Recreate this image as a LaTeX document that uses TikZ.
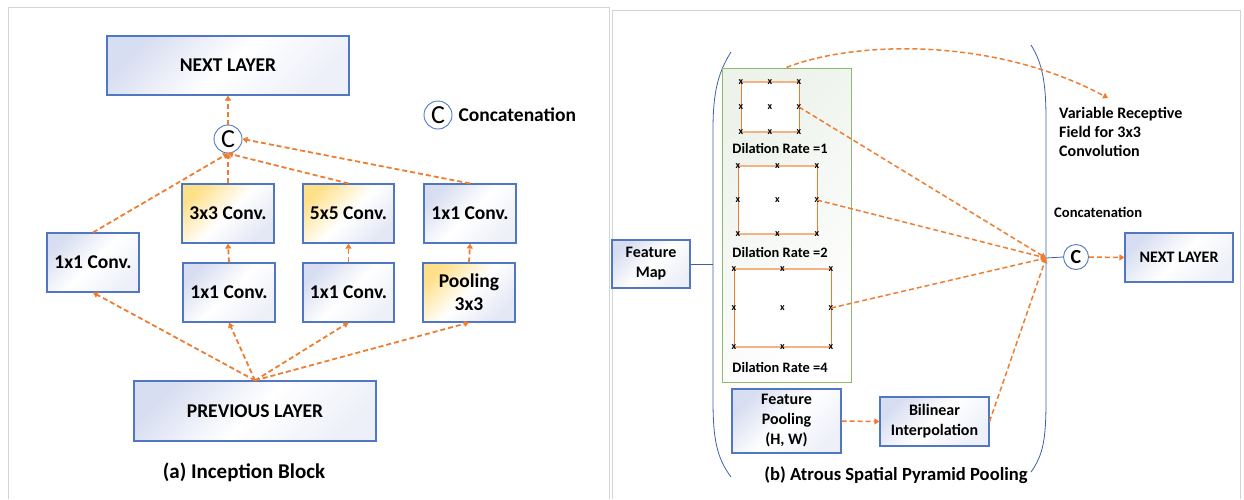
\documentclass[tikz,border=0pt]{standalone}
\usepackage{fontspec}
\setmainfont{Carlito}
\usetikzlibrary{arrows.meta,positioning}
\definecolor{boxblue}{HTML}{5177C2}
\definecolor{boxlav}{HTML}{D8DEF1}
\definecolor{boxyel}{HTML}{FFE08A}
\definecolor{arrorange}{HTML}{ED7D31}
\definecolor{sqlight}{HTML}{F4B183}
\definecolor{dilgreen}{HTML}{8DBA6E}
\definecolor{dilfill}{HTML}{EDF2EB}
\definecolor{parblue}{HTML}{3F5FA8}
\definecolor{panelgray}{HTML}{D4D4D4}

\begin{document}
\begin{tikzpicture}[x=1pt,y=-1pt,
  layer/.style={draw=boxblue, line width=1.1pt, top color=boxlav, bottom color=boxlav!45, middle color=white, shading angle=45, align=center, inner sep=0pt, font=\bfseries\fontsize{19.5}{23}\selectfont},
  layerY/.style={layer, top color=boxyel, bottom color=boxlav!70, middle color=white, shading angle=45},
  small/.style={font=\bfseries\fontsize{16}{20}\selectfont},
  concat/.style={circle, draw=boxblue, line width=0.9pt, fill=white, inner sep=0pt, minimum size=28pt, font=\fontsize{26}{26}\selectfont},
  flow/.style={draw=arrorange, line width=1.8pt, dash pattern=on 5pt off 3pt, -{Triangle[length=5pt,width=6pt]}},
  tick/.style={inner sep=0pt, font=\bfseries\fontsize{10}{10}\selectfont},
  dillabel/.style={inner sep=0pt, font=\bfseries\fontsize{14.4}{16}\selectfont},
]
\useasboundingbox (0,0) rectangle (1244,499);

% panel frames
\draw[panelgray, line width=0.9pt] (8,499) -- (8,7) -- (609,7) -- (609,499);
\draw[panelgray, line width=0.9pt] (612,499) -- (612,10) -- (1240,10) -- (1240,499);

%% (a) inception block
\node[layer, minimum width=242pt, minimum height=59pt] (nextA) at (228,65.5) {NEXT LAYER};
\node[concat] (concA) at (228,139) {C};
\node[concat] (legC) at (438,115) {C};
\node[right=6pt of legC, inner sep=0pt, font=\bfseries\fontsize{19.5}{23}\selectfont] (legT) {Concatenation};

\node[layerY, minimum width=92pt, minimum height=59pt] (c33) at (228,213.5) {3x3 Conv.};
\node[layerY, minimum width=91pt, minimum height=59pt] (c55) at (348.5,213.5) {5x5 Conv.};
\node[layer, minimum width=92pt, minimum height=59pt] (c11r) at (470,213.5) {1x1 Conv.};
\node[layer, minimum width=92pt, minimum height=59pt] (c11l) at (93,262.5) {1x1 Conv.};
\node[layer, minimum width=92pt, minimum height=59pt] (r11a) at (229,292.5) {1x1 Conv.};
\node[layer, minimum width=91pt, minimum height=59pt] (r11b) at (348.5,292.5) {1x1 Conv.};
\node[layerY, minimum width=92pt, minimum height=59pt] (pool) at (469,292.5) {Pooling\\3x3};
\node[layer, minimum width=242pt, minimum height=60pt] (prevA) at (255,411) {PREVIOUS LAYER};
\node[inner sep=0pt, font=\bfseries\fontsize{21}{24}\selectfont] (capA) at (244,472) {(a) Inception Block};

\foreach \t in {c11l,r11a,r11b,pool}
  \draw[flow] (prevA.north) -- (\t.south);
\foreach \s/\t in {r11a/c33,r11b/c55,pool/c11r}
  \draw[flow] (\s.north) -- (\t.south);
\foreach \s in {c11l,c33,c55}
  \draw[flow] (\s.north) -- (concA.south);
\draw[flow] (c11r.north) -- (concA.east);
\draw[flow] (concA.north) -- (nextA.south);

%% (b) atrous spatial pyramid pooling
\node[layer, small, minimum width=78pt, minimum height=48pt] (fmap) at (651,264) {Feature\\Map};
% brackets
\draw[parblue, line width=0.8pt] (731,52) .. controls (717,74) and (713,95) .. (713,130) -- (713,400) .. controls (713,440) and (717,458) .. (731,477);
\draw[parblue, line width=0.8pt] (1031,45) .. controls (1043,64) and (1046,85) .. (1046,120) -- (1046,400) .. controls (1046,440) and (1043,455) .. (1031,472);
\coordinate (lpar) at (713,264);
\coordinate (join) at (1046,258);
\draw[parblue, line width=0.8pt] (fmap.east) -- (lpar);

\node[draw=dilgreen, line width=1pt, top color=dilfill, bottom color=white, shading angle=45, minimum width=129pt, minimum height=314pt, inner sep=0pt] (dil) at (786.5,225) {};
\foreach \r/\xa/\ya/\xb/\yb/\ly in {1/741/82/799/132/148, 2/738/166/817/234/252, 4/734/269/831/347/367} {
  \pgfmathsetmacro{\xm}{(\xa+\xb)/2}
  \pgfmathsetmacro{\ym}{(\ya+\yb)/2}
  \fill[white] (\xa,\ya) rectangle (\xb,\yb);
  \draw[sqlight, line width=1.2pt] (\xa,\ya) -- (\xb,\ya) (\xa,\yb) -- (\xb,\yb);
  \draw[arrorange, line width=1pt] (\xa,\ya) -- (\xa,\yb) (\xb,\ya) -- (\xb,\yb);
  \foreach \px in {\xa,\xm,\xb}
    \foreach \py in {\ya,\ym,\yb}
      \node[tick] at (\px,\py) {x};
  \coordinate (d\r) at (\xb,\ym);
  \node[dillabel] (lab\r) at (780,\ly) {Dilation Rate =\r};
}

\node[layer, small, minimum width=109pt, minimum height=64pt] (fpool) at (786.5,421) {Feature\\Pooling\\(H, W)};
\node[layer, small, minimum width=109pt, minimum height=49pt] (bilin) at (934.5,421.5) {Bilinear\\Interpolation};
\node[concat, minimum size=25pt, font=\bfseries\fontsize{20}{20}\selectfont] (concB) at (1076,257) {C};
\node[layer, small, minimum width=108pt, minimum height=49pt] (nextB) at (1179,257.5) {NEXT LAYER};
\node[anchor=west, inner sep=0pt, font=\bfseries\fontsize{14.6}{17}\selectfont] (concLab) at (1054,212.5) {Concatenation};
\node[anchor=north west, align=left, inner sep=0pt, font=\bfseries\fontsize{16}{19}\selectfont] (vrf) at (1059,107) {Variable Receptive\\Field for 3x3\\Convolution};
\coordinate (vrfTip) at (1108,98);
\node[inner sep=0pt, font=\bfseries\fontsize{18.6}{22}\selectfont] (capB) at (896,475) {(b) Atrous Spatial Pyramid Pooling};

\draw[parblue, line width=0.8pt] (join) -- (concB.west);
\begin{scope}[flow/.append style={line width=1.5pt}]
  \foreach \s in {d1,d2,d4}
    \draw[flow] (\s) -- (join);
  \draw[flow] (bilin.east) -- (join);
  \draw[flow] (fpool.east) -- (bilin.west);
  \draw[flow] (concB.east) -- (nextB.west);
  \draw[flow] (dil.north) .. controls (850,42) and (990,35) .. (vrfTip);
\end{scope}
\end{tikzpicture}
\end{document}
